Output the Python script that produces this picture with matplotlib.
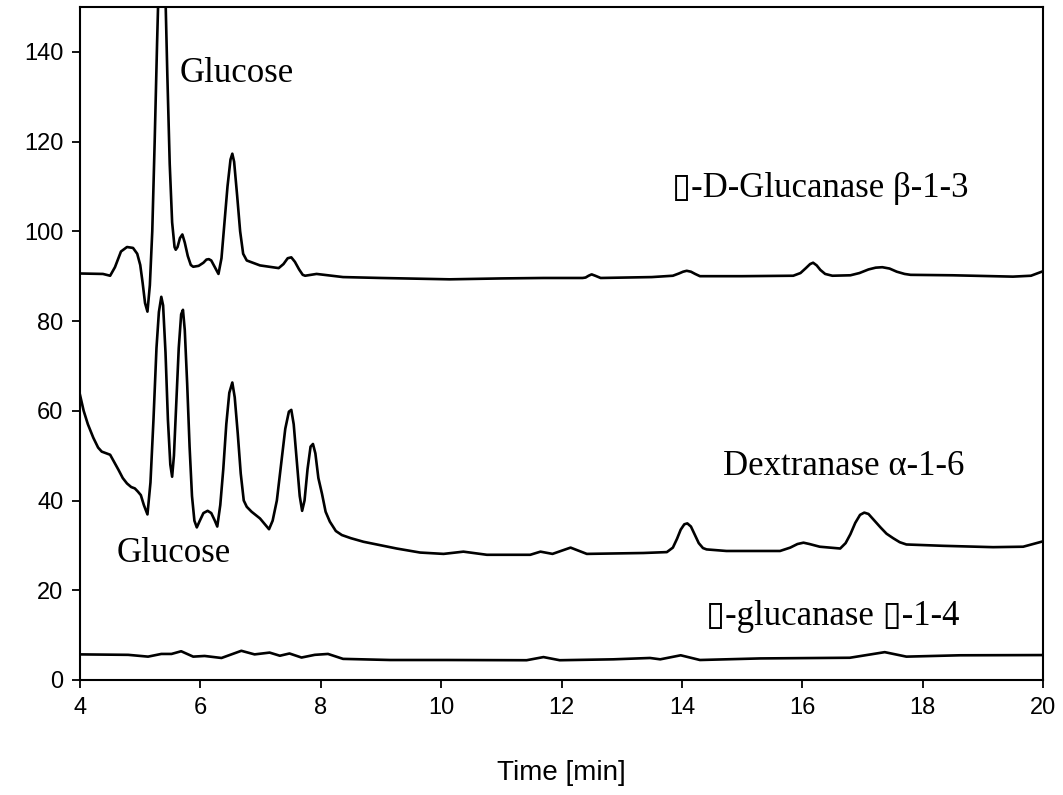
import matplotlib
matplotlib.use("Agg")
import matplotlib.pyplot as plt

# beta-D-glucanase b-1-3 trace
beta13_t = [4.00, 4.38, 4.50, 4.58, 4.68, 4.78, 4.88, 4.95, 5.00, 5.04, 5.08, 5.12, 5.16, 5.20,
            5.24, 5.28, 5.30, 5.36, 5.42, 5.45, 5.49, 5.53, 5.57, 5.59, 5.62, 5.66, 5.70, 5.74,
            5.79, 5.84, 5.88, 5.97, 6.05, 6.10, 6.14, 6.18, 6.24, 6.30, 6.35, 6.40, 6.45, 6.50,
            6.53, 6.56, 6.61, 6.66, 6.71, 6.77, 6.99, 7.30, 7.38, 7.45, 7.51, 7.57, 7.64, 7.70,
            7.74, 7.93, 8.37, 9.00, 10.14, 11.00, 11.70, 12.35, 12.40, 12.45, 12.50, 12.56, 12.65,
            13.50, 13.85, 13.95, 14.02, 14.08, 14.15, 14.22, 14.30, 15.00, 15.85, 15.97, 16.06,
            16.13, 16.18, 16.24, 16.30, 16.38, 16.50, 16.80, 16.95, 17.10, 17.22, 17.33, 17.45,
            17.57, 17.70, 17.80, 18.50, 19.50, 19.80, 20.00]
beta13_v = [90.6, 90.5, 90.1, 92.0, 95.5, 96.5, 96.3, 95.0, 92.5, 88.5, 84.0, 82.1, 88.0, 100,
            120, 142, 152, 170, 152, 135, 115, 102, 96.5, 95.9, 96.5, 98.5, 99.3, 97.5,
            94.5, 92.5, 92.1, 92.3, 93.0, 93.7, 93.8, 93.5, 92.0, 90.5, 94.0, 102, 110, 116,
            117.3, 115.5, 108, 100, 95.0, 93.5, 92.4, 91.8, 92.7, 94.0, 94.2, 93.2, 91.5, 90.3,
            90.1, 90.5, 89.8, 89.6, 89.3, 89.5, 89.6, 89.6, 89.7, 90.1, 90.4, 90.1, 89.6,
            89.8, 90.1, 90.6, 91.0, 91.2, 91.0, 90.5, 90.0, 90.0, 90.1, 90.7, 91.8,
            92.7, 93.0, 92.4, 91.4, 90.5, 90.1, 90.2, 90.7, 91.5, 91.9, 92.0, 91.7,
            91.0, 90.5, 90.3, 90.2, 89.9, 90.1, 91.1]

# dextranase a-1-6 trace
dex_t = [4.00, 4.06, 4.13, 4.22, 4.30, 4.36, 4.44, 4.50, 4.57, 4.64, 4.71, 4.78, 4.85, 4.91,
         4.96, 5.01, 5.06, 5.12, 5.17, 5.22, 5.27, 5.31, 5.35, 5.38, 5.42, 5.46, 5.50, 5.53,
         5.56, 5.60, 5.64, 5.68, 5.71, 5.74, 5.78, 5.82, 5.86, 5.90, 5.94, 5.99, 6.05, 6.12,
         6.18, 6.24, 6.28, 6.33, 6.38, 6.43, 6.48, 6.53, 6.57, 6.62, 6.67, 6.72, 6.77, 6.85,
         6.99, 7.14, 7.20, 7.27, 7.34, 7.41, 7.47, 7.51, 7.55, 7.60, 7.65, 7.69, 7.73, 7.78,
         7.83, 7.87, 7.91, 7.96, 8.02, 8.08, 8.15, 8.25, 8.35, 8.50, 8.71, 9.00, 9.26, 9.65,
         10.04, 10.37, 10.76, 11.48, 11.65, 11.85, 12.15, 12.42, 13.36, 13.75, 13.85, 13.92,
         13.98, 14.04, 14.09, 14.15, 14.21, 14.28, 14.35, 14.41, 14.74, 15.63, 15.80, 15.92,
         16.02, 16.12, 16.29, 16.63, 16.72, 16.80, 16.88, 16.96, 17.03, 17.10, 17.20, 17.30,
         17.40, 17.51, 17.62, 17.73, 18.34, 19.17, 19.67, 20.00]
dex_v = [63.5, 60, 57, 54, 51.8, 50.9, 50.5, 50.2, 48.5, 46.8, 45, 43.8, 43, 42.7,
         42, 41.2, 39, 36.9, 44, 58, 74, 82, 85.4, 83.5, 73, 58, 48, 45.3,
         50, 62, 74, 81.5, 82.5, 78, 66, 52, 41, 35.5, 34.0, 35.5, 37.2, 37.7,
         37.2, 35.5, 34.2, 39, 47, 57, 64, 66.3, 63, 55, 46, 40, 38.6, 37.5,
         36.0, 33.6, 35.5, 40, 48, 56, 59.8, 60.2, 57, 49, 41, 37.7, 40, 47,
         52, 52.6, 50.5, 45, 41.5, 37.5, 35.3, 33.2, 32.3, 31.6, 30.8, 30.0, 29.3, 28.4,
         28.1, 28.6, 27.9, 27.9, 28.6, 28.1, 29.5, 28.1, 28.3, 28.5, 29.5, 31.5,
         33.5, 34.7, 34.9, 34.2, 32.5, 30.5, 29.4, 29.1, 28.75, 28.75, 29.5, 30.3,
         30.6, 30.3, 29.7, 29.3, 30.5, 32.5, 35, 36.8, 37.3, 37.0, 35.5, 34.0,
         32.6, 31.6, 30.7, 30.2, 29.9, 29.6, 29.7, 30.9]

# glucanase 1-4 trace
glu14_t = [4.00, 4.80, 5.13, 5.35, 5.52, 5.68, 5.88, 6.07, 6.35, 6.68, 6.90, 7.15, 7.32, 7.48,
           7.68, 7.90, 8.12, 8.37, 9.15, 10.09, 11.42, 11.70, 11.97, 12.86, 13.47, 13.64,
           13.98, 14.30, 15.30, 16.79, 17.37, 17.73, 18.62, 20.00]
glu14_v = [5.7, 5.6, 5.2, 5.8, 5.8, 6.4, 5.2, 5.35, 4.9, 6.5, 5.7, 6.1, 5.4, 5.9,
           5.0, 5.6, 5.8, 4.7, 4.45, 4.45, 4.4, 5.1, 4.4, 4.6, 4.9, 4.6,
           5.5, 4.45, 4.8, 4.95, 6.2, 5.2, 5.5, 5.55]

xticks = [4, 6, 8, 10, 12, 14, 16, 18, 20]
yticks = [0, 20, 40, 60, 80, 100, 120, 140]

plt.rcParams['font.family'] = ['Liberation Sans', 'DejaVu Sans']

fig = plt.figure(figsize=(10.63, 7.95), dpi=100)
ax = fig.add_axes([0.0753, 0.1447, 0.9059, 0.8465])

for t, v in [(beta13_t, beta13_v), (dex_t, dex_v), (glu14_t, glu14_v)]:
    ax.plot(t, v, color='black', lw=1.9, solid_joinstyle='round')

ax.set_xlim(4, 20)
ax.set_ylim(0, 150)
ax.set_xticks(xticks)
ax.set_yticks(yticks)
ax.tick_params(direction='out', length=6, width=1.3, labelsize=17, pad=6)
for s in ax.spines.values():
    s.set_linewidth(1.5)
ax.set_xlabel('Time [min]', fontsize=20, labelpad=30)

serif = ['Liberation Serif', 'DejaVu Sans']
ax.text(5.66, 133.3, 'Glucose', family=serif, fontsize=25)
ax.text(4.61, 26.3, 'Glucose', family=serif, fontsize=25)
ax.text(13.83, 107.7, '\u25af-D-Glucanase \u03b2-1-3', family=serif, fontsize=25)
ax.text(14.68, 45.7, 'Dextranase \u03b1-1-6', family=serif, fontsize=25)
ax.text(14.4, 12.3, '\u25af-glucanase \u25af-1-4', family=serif, fontsize=25)

fig.savefig('out.png', dpi=100)
